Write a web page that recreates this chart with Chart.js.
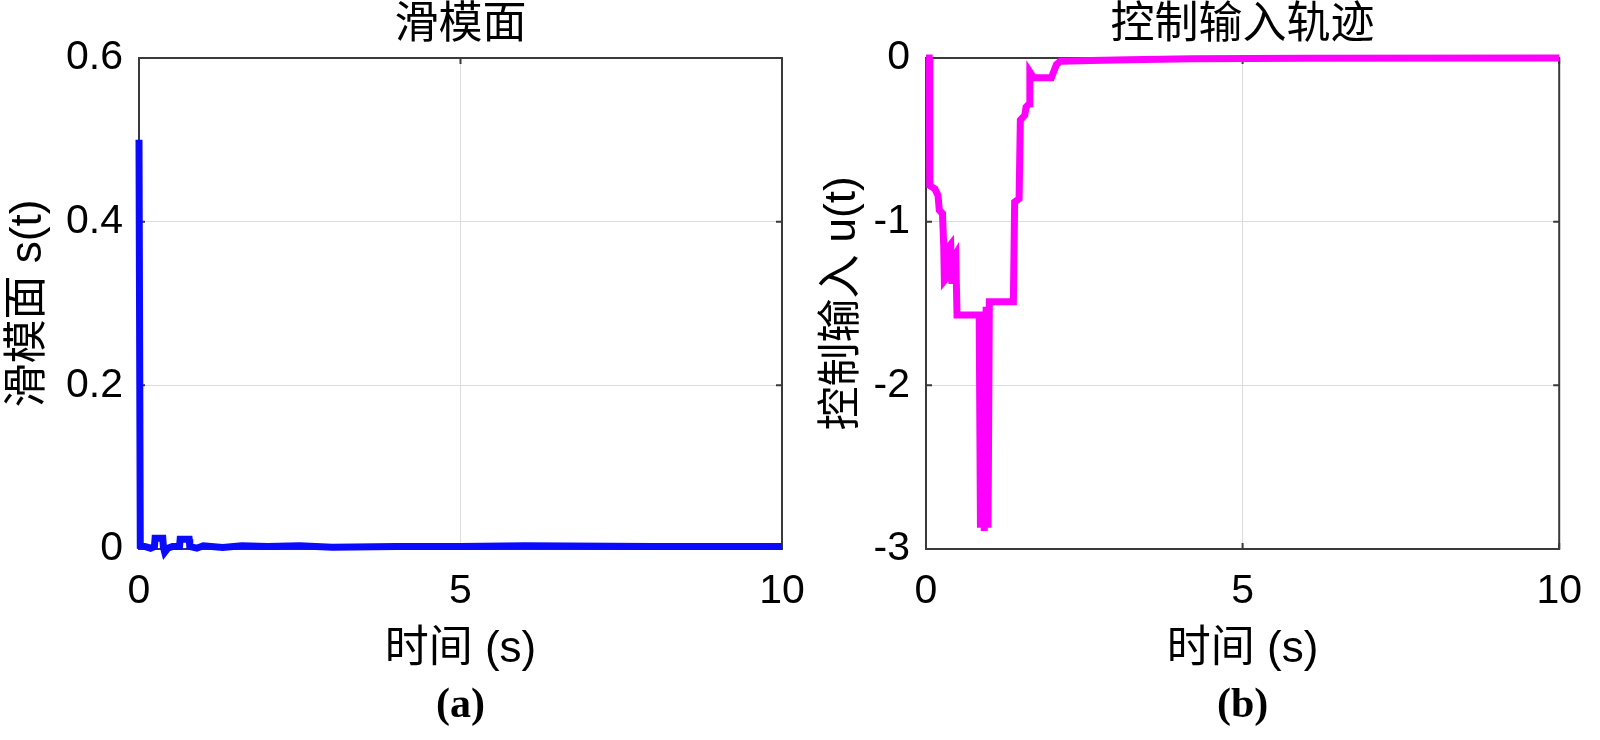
<!DOCTYPE html>
<html lang="zh">
	<head>
		<meta charset="utf-8" />
		<title>滑模面 / 控制输入轨迹</title>
		<script src="https://cdn.jsdelivr.net/npm/chart.js"></script>
		<style>
			body { margin: 0; background: #fff; }
			canvas { position: absolute; top: 0; }
			#chartS { left: 0; }
			#chartU { left: 800px; }
		</style>
	</head>
	<body>
		<canvas id="chartS" width="830" height="740"></canvas>
		<canvas id="chartU" width="800" height="740"></canvas>

		<script>
			// (a) sliding surface s(t)
			var sTime = [0, 0.02, 0.1, 0.18, 0.24, 0.25, 0.37, 0.38, 0.4, 0.45, 0.52, 0.63, 0.64, 0.78, 0.79, 0.9, 1.0, 1.3, 1.6, 2.0, 2.5, 3.0, 4.0, 5.0, 6.0, 8.0, 10];
			var sValue = [0.5, 0.004, 0.003, 0.001, 0.003, 0.013, 0.013, 0.002, -0.004, 0.001, 0.003, 0.003, 0.012, 0.012, 0.003, 0.001, 0.004, 0.002, 0.004, 0.003, 0.004, 0.002, 0.003, 0.003, 0.004, 0.003, 0.003];

			// (b) control input u(t)
			var uTime = [0, 0.05, 0.06, 0.14, 0.19, 0.21, 0.26, 0.28, 0.29, 0.33, 0.35, 0.39, 0.41, 0.44, 0.47, 0.49, 0.84, 0.86, 0.89, 0.92, 0.95, 0.98, 1.0, 1.38, 1.4, 1.47, 1.49, 1.56, 1.58, 1.63, 1.64, 1.7, 1.98, 2.06, 2.12, 2.6, 3.2, 4.2, 6.0, 10];
			var uValue = [0, 0, -0.78, -0.8, -0.84, -0.93, -0.95, -1.15, -1.36, -1.34, -1.16, -1.14, -1.38, -1.22, -1.2, -1.57, -1.57, -2.87, -1.56, -2.89, -1.52, -2.87, -1.49, -1.49, -0.88, -0.86, -0.38, -0.35, -0.3, -0.28, -0.085, -0.12, -0.12, -0.04, -0.02, -0.015, -0.01, -0.005, -0.002, 0];

			// tick labels
			var timeTicks = [0, 5, 10];
			var sTicks = [0, 0.2, 0.4, 0.6];
			var sTickLabels = ["0", "0.2", "0.4", "0.6"];
			var uTicks = [-3, -2, -1, 0];
			var uTickLabels = ["-3", "-2", "-1", "0"];

			var latin = "'Liberation Sans', Arial, sans-serif";
			var mixed = "'Liberation Sans', 'Noto Sans CJK SC', sans-serif";

			Chart.defaults.color = "#000";

			// box round the plot + small inward ticks (matlab look)
			var framePlugin = {
				id: "frame",
				beforeDatasetsDraw: function (chart) {
					var ctx = chart.ctx;
					var a = chart.chartArea;
					var x = chart.scales.x;
					var y = chart.scales.y;
					ctx.save();
					ctx.strokeStyle = "#3a3a3a";
					ctx.lineWidth = 2;
					ctx.strokeRect(a.left, a.top, a.right - a.left, a.bottom - a.top);
					ctx.beginPath();
					x.ticks.forEach(function (t) {
						var px = x.getPixelForValue(t.value);
						ctx.moveTo(px, a.bottom);
						ctx.lineTo(px, a.bottom - 6);
						ctx.moveTo(px, a.top);
						ctx.lineTo(px, a.top + 6);
					});
					y.ticks.forEach(function (t) {
						var py = y.getPixelForValue(t.value);
						ctx.moveTo(a.left, py);
						ctx.lineTo(a.left + 6, py);
						ctx.moveTo(a.right, py);
						ctx.lineTo(a.right - 6, py);
					});
					ctx.stroke();
					ctx.restore();
				},
			};

			function toPoints(xs, ys) {
				return xs.map(function (v, i) {
					return { x: v, y: ys[i] };
				});
			}

			function makeConfig(opt) {
				return {
					type: "line",
					data: {
						datasets: [
							{
								data: toPoints(opt.xs, opt.ys),
								borderColor: opt.color,
								borderWidth: 7,
								pointRadius: 0,
								tension: 0,
								borderJoinStyle: "miter",
								clip: false,
							},
						],
					},
					options: {
						responsive: false,
						animation: false,
						devicePixelRatio: 1,
						events: [],
						layout: { padding: { left: 0, top: 0, right: opt.padRight, bottom: 13 } },
						plugins: {
							legend: { display: false },
							tooltip: { enabled: false },
							title: {
								display: true,
								fullSize: false,
								text: opt.title,
								font: { family: mixed, size: 44, weight: "normal", lineHeight: 1 },
								padding: { top: 4, bottom: 10 },
							},
							subtitle: {
								display: true,
								fullSize: false,
								position: "bottom",
								text: opt.tag,
								font: { family: "'Liberation Serif', 'Times New Roman', serif", size: 42, weight: "bold", lineHeight: 1 },
								padding: { top: 9, bottom: 0 },
							},
						},
						scales: {
							x: {
								type: "linear",
								min: 0,
								max: 10,
								afterBuildTicks: function (s) {
									s.ticks = timeTicks.map(function (v) { return { value: v }; });
								},
								afterFit: function (s) { s.height = 127; },
								ticks: {
									padding: 18,
									maxRotation: 0,
									font: { family: latin, size: 41 },
									callback: function (v) { return String(v); },
								},
								grid: {
									drawTicks: false,
									color: function (c) {
										return c.tick && (c.tick.value === 0 || c.tick.value === 10) ? "rgba(0,0,0,0)" : "#dcdcdc";
									},
								},
								border: { display: false },
								title: {
									display: true,
									text: "时间 (s)",
									font: { family: mixed, size: 44, lineHeight: 1 },
									padding: { top: 0, bottom: 4 },
								},
							},
							y: {
								min: opt.yMin,
								max: opt.yMax,
								afterBuildTicks: function (s) {
									s.ticks = opt.yTicks.map(function (v) { return { value: v }; });
								},
								afterFit: function (s) { s.width = opt.yWidth; },
								ticks: {
									padding: 16,
									font: { family: latin, size: 41 },
									callback: function (v) {
										var i = opt.yTicks.indexOf(v);
										return i >= 0 ? opt.yLabels[i] : "";
									},
								},
								grid: {
									drawTicks: false,
									color: function (c) {
										return c.tick && (c.tick.value === opt.yMin || c.tick.value === opt.yMax) ? "rgba(0,0,0,0)" : "#dcdcdc";
									},
								},
								border: { display: false },
								title: {
									display: true,
									text: opt.yTitle,
									font: { family: mixed, size: 44, lineHeight: 1 },
									padding: { top: opt.yTitlePad, bottom: 0 },
								},
							},
						},
					},
					plugins: [framePlugin],
				};
			}

			var chartS = new Chart(
				document.getElementById("chartS"),
				makeConfig({
					xs: sTime,
					ys: sValue,
					color: "#0a0aff",
					title: "滑模面",
					tag: "(a)",
					yTitle: "滑模面 s(t)",
					yMin: 0,
					yMax: 0.6,
					yTicks: sTicks,
					yLabels: sTickLabels,
					yWidth: 139,
					yTitlePad: 7,
					padRight: 48,
				})
			);

			var chartU = new Chart(
				document.getElementById("chartU"),
				makeConfig({
					xs: uTime,
					ys: uValue,
					color: "#ff00ff",
					title: "控制输入轨迹",
					tag: "(b)",
					yTitle: "控制输入 u(t)",
					yMin: -3,
					yMax: 0,
					yTicks: uTicks,
					yLabels: uTickLabels,
					yWidth: 126,
					yTitlePad: 21,
					padRight: 32,
				})
			);
		</script>
	</body>
</html>
